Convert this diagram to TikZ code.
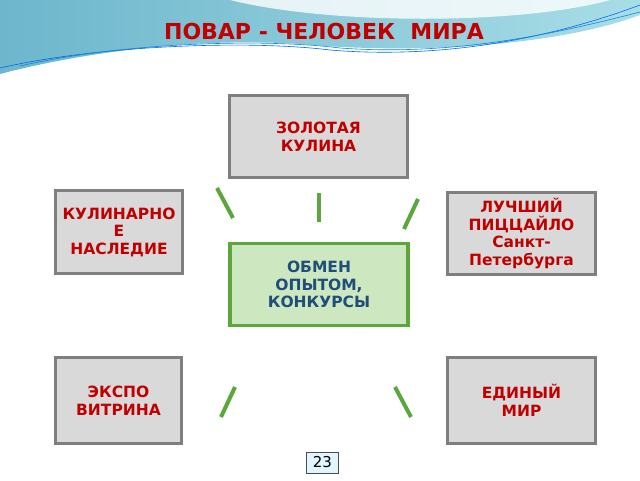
\documentclass[tikz,border=0pt]{standalone}
\usepackage{fontspec}
\setmainfont{DejaVu Sans}
\definecolor{gborder}{HTML}{7F7F7F}
\definecolor{gfill}{HTML}{D9D9D9}
\definecolor{cborder}{HTML}{5BA73C}
\definecolor{cfill}{HTML}{CDE8C0}
\definecolor{rtext}{HTML}{C00000}
\definecolor{btext}{HTML}{1F4E79}
\definecolor{waveL}{HTML}{6DB6CC}
\definecolor{waveR}{HTML}{A8DDE6}
\begin{document}
\begin{tikzpicture}[x=1pt,y=-1pt,
  gbox/.style={draw=gborder,line width=3.5pt,fill=gfill,minimum width=#1,inner sep=2pt,align=center,font=\bfseries\fontsize{15.5}{17.5}\selectfont,text=rtext},
  cbox/.style={draw=cborder,line width=3.5pt,fill=cfill,minimum width=178pt,minimum height=82pt,align=center,font=\bfseries\fontsize{15.5}{17.5}\selectfont,text=btext},
  stroke/.style={draw=cborder,line width=4pt}]
\useasboundingbox (0,0) rectangle (640,480);
\fill[white] (0,0) rectangle (640,480);
\shade[left color=waveL,right color=waveR] (0,0)--(640,0)--(640,15) .. controls (560,45) and (420,55) .. (300,44) .. controls (180,36) and (60,58) .. (0,74) -- cycle;
\fill[white,opacity=0.8] (230,0) .. controls (330,25) and (520,25) .. (610,0) -- cycle;
\draw[blue!60!cyan,line width=0.6pt] (0,68) .. controls (100,45) and (250,40) .. (330,50) .. controls (450,60) and (560,35) .. (640,5);
\draw[cyan!70!blue,line width=0.6pt] (20,66) .. controls (120,43) and (260,38) .. (340,48) .. controls (460,57) and (570,30) .. (640,12);
\node[font=\bfseries\fontsize{22}{24}\selectfont,text=rtext] (t) at (324,31) {ПОВАР - ЧЕЛОВЕК\ \ МИРА};
\node[gbox=178pt,minimum height=82pt] (a) at (318.5,136.5) {ЗОЛОТАЯ\\КУЛИНА};
\node[gbox=127pt,minimum height=83pt] (b) at (119,232) {КУЛИНАРНО\\Е\\НАСЛЕДИЕ};
\node[gbox=148pt,minimum height=82pt] (c) at (521.5,233.5) {ЛУЧШИЙ\\ПИЦЦАЙЛО\\Санкт-\\Петербурга};
\node[cbox] (m) at (319,284.5) {ОБМЕН\\ОПЫТОМ,\\КОНКУРСЫ};
\node[gbox=126pt,minimum height=86pt] (d) at (118.5,400.5) {ЭКСПО\\ВИТРИНА};
\node[gbox=148pt,minimum height=86pt] (e) at (521.5,400.5) {ЕДИНЫЙ\\МИР};
\draw[stroke] (217,188)--(233,218);
\draw[stroke] (319,193)--(319,222);
\draw[stroke] (418,199)--(404,229);
\draw[stroke] (235,387)--(221,417);
\draw[stroke] (395,387)--(411,417);
\node[draw=black!70,fill=cyan!12,line width=1pt,minimum width=32pt,minimum height=21pt,inner sep=1pt,font=\fontsize{15}{17}\selectfont] (p) at (322.5,462.5) {23};
\end{tikzpicture}
\end{document}
